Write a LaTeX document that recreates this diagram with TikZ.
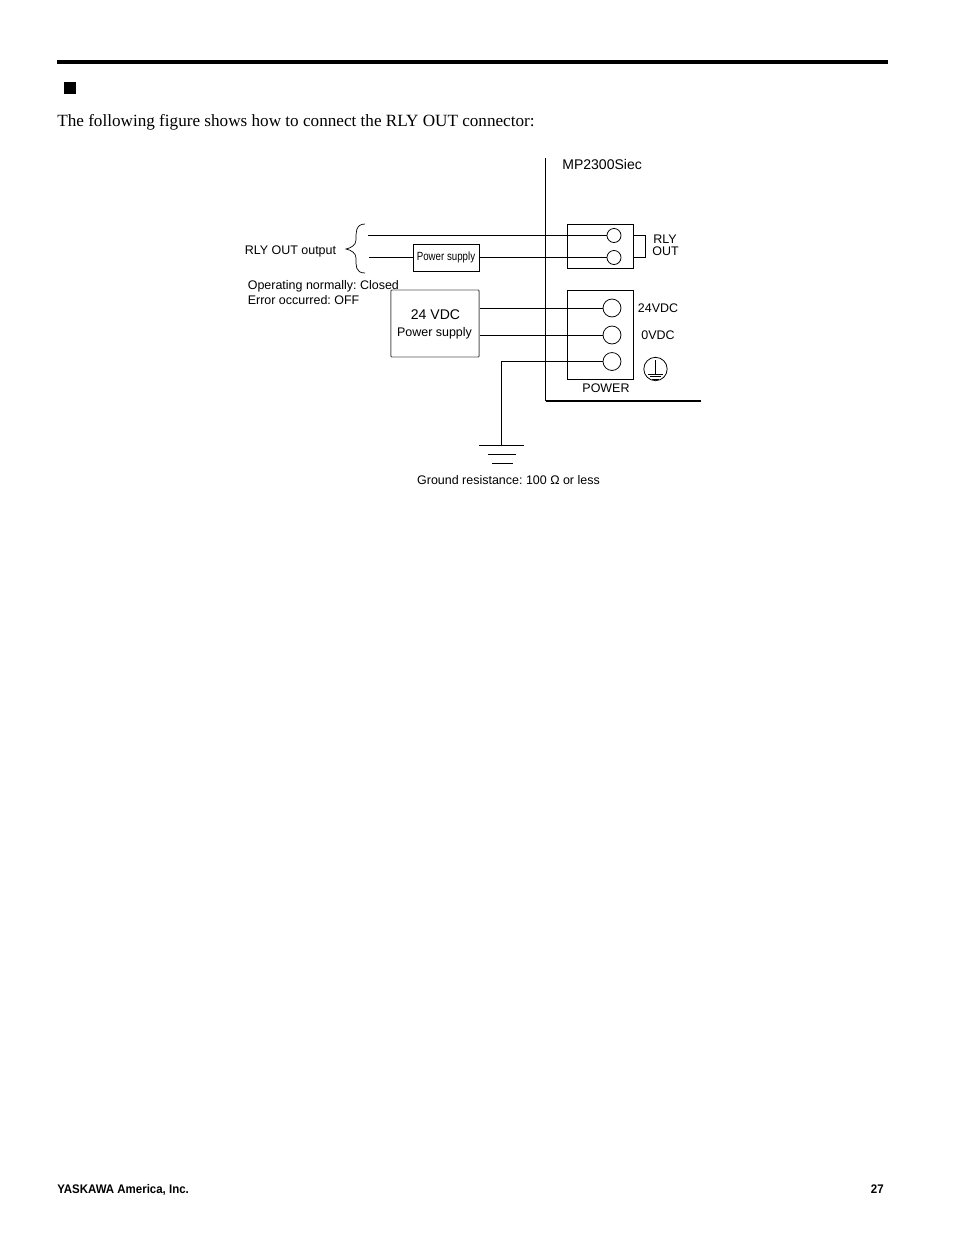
\documentclass[tikz,border=0pt]{standalone}
\usepackage{fontspec}
\setmainfont{Liberation Serif}
\setsansfont{Liberation Sans}
\frenchspacing
\tikzset{
  label/.style={font=\sffamily\fontsize{8}{9}\selectfont,inner sep=0pt},
  wire/.style={line width=.6pt},
  unit/.style={draw,line width=.6pt,inner sep=0pt},
  pin/.style={draw,circle,line width=.5pt,inner sep=0pt},
  foot/.style={font=\sffamily\bfseries\fontsize{8}{9}\selectfont,inner sep=0pt}
}
\begin{document}
\begin{tikzpicture}[x=0.6415pt,y=-0.6415pt]
\useasboundingbox (0,0) rectangle (954,1235);
% page header
\coordinate (ruleL) at (57,62);
\coordinate (ruleR) at (888,62);
\draw[line width=2.6pt] (ruleL)--(ruleR);
\node[fill=black,minimum size=7.7pt,inner sep=0pt] (mark) at (70,88) {};
\node[anchor=base west,inner sep=0pt,font=\fontsize{11}{13}\selectfont] (intro) at (57,126) {The following figure shows how to connect the RLY OUT connector:};
% controller outline
\coordinate (wallT) at (545.7,158);
\coordinate (wallB) at (545.7,401);
\coordinate (wallR) at (701,401);
\draw[wire] (wallT)--(wallB);
\draw[line width=1.1pt] (wallB)--(wallR);
\node[label,anchor=west,font=\sffamily\fontsize{9}{10}\selectfont] (model) at (562,164) {MP2300Siec};
% RLY OUT connector
\node[unit,minimum width=42.3pt,minimum height=28.2pt] (rlybox) at (600,246) {};
\node[pin,minimum size=9pt,fill=white] (pinA) at (614,235.5) {};
\node[pin,minimum size=9pt,fill=white] (pinB) at (614,257.5) {};
\coordinate (rlyA) at (rlybox.east |- pinA);
\coordinate (rlyB) at (rlybox.east |- pinB);
\coordinate (rlyAr) at (645.5,235.5);
\coordinate (rlyBr) at (645.5,257.5);
\draw[wire] (rlyA)--(rlyAr)--(rlyBr)--(rlyB);
\node[label] (rlytop) at (665,239.5) {RLY};
\node[label] (rlybot) at (665.5,251) {OUT};
% POWER connector
\node[unit,minimum width=42.3pt,minimum height=57.1pt] (pwrbox) at (600,334.5) {};
\node[pin,minimum size=11.5pt,fill=white] (pinP) at (612,308) {};
\node[pin,minimum size=11.5pt,fill=white] (pinN) at (612,335) {};
\node[pin,minimum size=11.5pt,fill=white] (pinG) at (612,361.5) {};
\node[label] (vdcP) at (658,308) {24VDC};
\node[label] (vdcN) at (658,335) {0VDC};
\node[label] (pwrtext) at (606,388.5) {POWER};
% earth symbol
\node[pin,minimum size=15pt] (earth) at (655.5,369) {};
\coordinate (earthT) at (655.5,360);
\coordinate (earthB) at (655.5,374);
\draw[wire] (earthT)--(earthB);
\draw[wire] (648,374)--(663,374);
\draw[wire] (650,376.5)--(661,376.5);
\draw[wire] (652,379)--(659,379);
% output side
\coordinate (outA) at (368,235.5);
\coordinate (outB) at (369,257.5);
\node[unit,minimum width=42.3pt,minimum height=17.3pt] (relaysup) at (446,257.5) {\sffamily\fontsize{7.6}{8}\selectfont\raisebox{-.6pt}{\scalebox{.82}[1]{Power supply}}};
\draw[wire] (outA)--(pinA);
\draw[wire] (outB)--(relaysup);
\draw[wire] (relaysup)--(pinB);
\coordinate (braceT) at (365,224);
\coordinate (braceM) at (346,249);
\coordinate (braceB) at (365,273);
\draw[line width=.45pt] (braceT) .. controls (355,224) and (356,234) .. (356,240) .. controls (356,245) and (351,248) .. (braceM) .. controls (351,250) and (356,253) .. (356,258) .. controls (356,265) and (355,273) .. (braceB);
\node[label,anchor=west] (outtext) at (244.5,251) {RLY OUT output};
\node[label,anchor=west] (closedtext) at (247.5,286) {Operating normally: Closed};
\node[label,anchor=west] (offtext) at (247.5,300.5) {Error occurred: OFF};
% 24 V supply
\node[draw=black!65,line width=.6pt,rounded corners=.6pt,minimum width=56.5pt,minimum height=43pt,inner sep=0pt] (supply) at (435,323.5) {};
\node[label,font=\sffamily\fontsize{9}{10}\selectfont] (supplyV) at (435.5,314.5) {24 VDC};
\node[label] (supplyT) at (434.5,333) {Power supply};
\coordinate (supplyP) at (supply.east |- pinP);
\coordinate (supplyN) at (supply.east |- pinN);
\draw[wire] (supplyP)--(pinP);
\draw[wire] (supplyN)--(pinN);
% ground
\coordinate (gndC) at (501,361.5);
\coordinate (gndA) at (501,445);
\draw[wire] (pinG)--(gndC)--(gndA);
\draw[wire] (479,445)--(523.5,445);
\draw[wire] (488,454.5)--(516,454.5);
\draw[wire] (492,463.5)--(512.5,463.5);
\node[label] (gndtext) at (508.5,480) {Ground resistance: 100 Ω or less};
% page footer
\node[foot,anchor=base west] (company) at (57,1193) {\scalebox{.92}[1]{YASKAWA America, Inc.}};
\node[foot,anchor=base east] (pageno) at (884,1193) {\scalebox{.92}[1]{27}};
\end{tikzpicture}
\end{document}
